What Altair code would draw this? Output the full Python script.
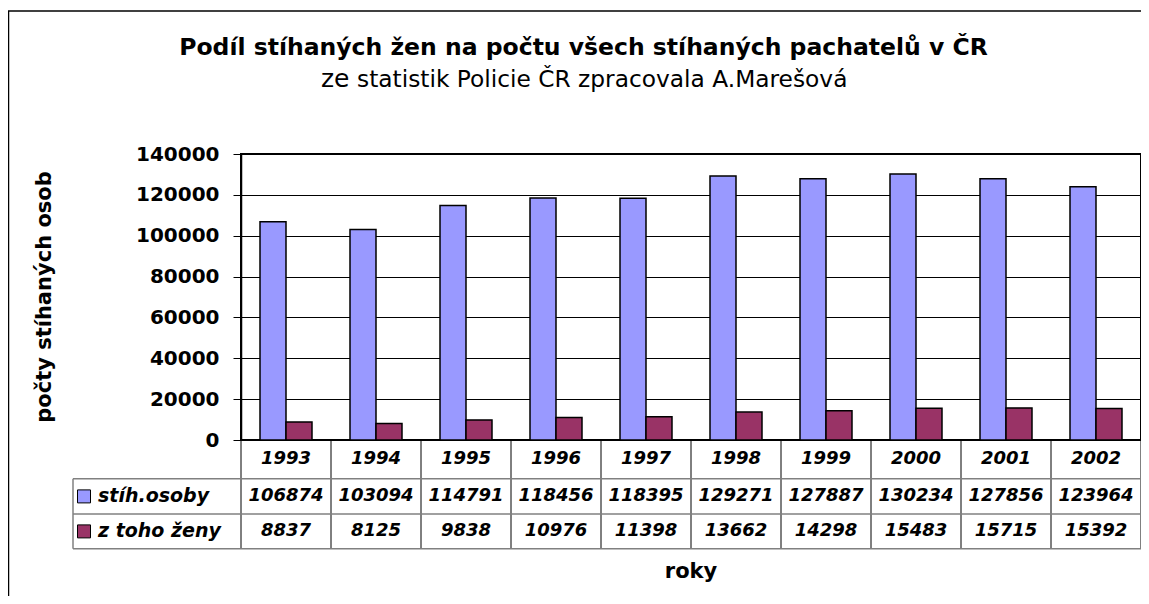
import altair as alt
import pandas as pd

# ---------------- data ----------------
years = ["1993", "1994", "1995", "1996", "1997", "1998", "1999", "2000", "2001", "2002"]
series_names = ["stíh.osoby", "z toho ženy"]
stih_osoby = [106874, 103094, 114791, 118456, 118395, 129271, 127887, 130234, 127856, 123964]
z_toho_zeny = [8837, 8125, 9838, 10976, 11398, 13662, 14298, 15483, 15715, 15392]
colors = ["#9999FF", "#993366"]
y_ticks = [0, 20000, 40000, 60000, 80000, 100000, 120000, 140000]

title_text = "Podíl stíhaných žen na počtu všech stíhaných pachatelů v ČR"
subtitle_lead = "ze"
subtitle_rest = "statistik Policie ČR zpracovala A.Marešová"
y_title = "počty stíhaných osob"
x_title = "roky"

FONT = "DejaVu Sans"
W, H = 900, 286          # plot area
OX, OY = 241, 154        # plot origin on the page


def px(x):
    return x - OX


def py(y):
    return y - OY


bars_df = pd.DataFrame({
    "year": years * 2,
    "series": [series_names[0]] * len(years) + [series_names[1]] * len(years),
    "value": stih_osoby + z_toho_zeny,
})
rows_df = pd.DataFrame({"year": years, "s1": stih_osoby, "s2": z_toho_zeny})
one = pd.DataFrame({"k": [0]})

xscale = alt.Scale(domain=years, paddingInner=0, paddingOuter=0)
cscale = alt.Scale(domain=series_names, range=colors)
X = alt.X("year:N", scale=xscale, axis=None, sort=years)

bars = alt.Chart(bars_df).mark_bar(stroke="black", strokeWidth=1.5).encode(
    x=X,
    xOffset=alt.XOffset("series:N", sort=series_names,
                        scale=alt.Scale(domain=series_names, paddingInner=0, paddingOuter=19 / 26)),
    y=alt.Y("value:Q", scale=alt.Scale(domain=[0, 140000], nice=False),
            axis=alt.Axis(values=y_ticks, format="d", title=None,
                          labelFont=FONT, labelFontWeight="bold", labelFontSize=20,
                          labelColor="black", labelPadding=14,
                          tickSize=8, tickColor="black", tickWidth=1,
                          domainColor="black", domainWidth=1.5,
                          grid=True, gridColor="black", gridWidth=1)),
    color=alt.Color("series:N", scale=cscale, legend=None),
)

txt = dict(font=FONT, fontWeight="bold", fontStyle="italic", baseline="middle", color="black")

hdr = alt.Chart(rows_df).mark_text(fontSize=18, **txt).encode(
    x=X, y=alt.value(py(459.4)), text="year:N")
row1 = alt.Chart(rows_df).mark_text(fontSize=18, **txt).encode(
    x=X, y=alt.value(py(496.4)), text=alt.Text("s1:Q", format="d"))
row2 = alt.Chart(rows_df).mark_text(fontSize=18, **txt).encode(
    x=X, y=alt.value(py(531.4)), text=alt.Text("s2:Q", format="d"))

leg_df = pd.DataFrame({"series": series_names})
leg_sq1 = alt.Chart(leg_df).transform_filter(alt.datum.series == series_names[0]).mark_square(
    size=169, filled=True, stroke="black", strokeWidth=1, opacity=1).encode(
    x=alt.value(px(84)), y=alt.value(py(496.4)),
    color=alt.Color("series:N", scale=cscale, legend=None))
leg_sq2 = alt.Chart(leg_df).transform_filter(alt.datum.series == series_names[1]).mark_square(
    size=169, filled=True, stroke="black", strokeWidth=1, opacity=1).encode(
    x=alt.value(px(84)), y=alt.value(py(531.4)),
    color=alt.Color("series:N", scale=cscale, legend=None))
leg_t1 = alt.Chart(leg_df).transform_filter(alt.datum.series == series_names[0]).mark_text(
    fontSize=19, align="left", **txt).encode(
    x=alt.value(px(98)), y=alt.value(py(496.4)), text="series:N")
leg_t2 = alt.Chart(leg_df).transform_filter(alt.datum.series == series_names[1]).mark_text(
    fontSize=19, align="left", **txt).encode(
    x=alt.value(px(98)), y=alt.value(py(531.4)), text="series:N")

# table lines
vlines = alt.Chart(rows_df).mark_rule(color="black", strokeWidth=1).encode(
    x=alt.X("year:N", scale=xscale, axis=None, sort=years, bandPosition=0),
    y=alt.value(py(440)), y2=alt.value(py(549)))
vright = alt.Chart(one).mark_rule(color="black", strokeWidth=1).encode(
    x=alt.value(W), y=alt.value(py(440)), y2=alt.value(py(549)))
vleft = alt.Chart(one).mark_rule(color="#808080", strokeWidth=1.5).encode(
    x=alt.value(px(73)), y=alt.value(py(478.7)), y2=alt.value(py(548.7)))


def hline(yabs):
    return alt.Chart(one).mark_rule(color="#808080", strokeWidth=1.5).encode(
        x=alt.value(px(73)), x2=alt.value(W), y=alt.value(py(yabs)))


h1, h2, h3 = hline(478.7), hline(514), hline(548.7)

# outer frame
ftop = alt.Chart(one).mark_rule(color="black", strokeWidth=1.5).encode(
    x=alt.value(px(8)), x2=alt.value(W + 10), y=alt.value(py(11)))
fleft = alt.Chart(one).mark_rule(color="black", strokeWidth=1.5).encode(
    x=alt.value(px(8.5)), y=alt.value(py(11)), y2=alt.value(py(604)))

# titles
t_title = alt.Chart(pd.DataFrame({"t": [title_text]})).mark_text(
    font=FONT, fontWeight="bold", fontSize=23.5, align="center", baseline="alphabetic", color="black").encode(
    x=alt.value(px(583.5)), y=alt.value(py(55)), text="t:N")
t_sub1 = alt.Chart(pd.DataFrame({"t": [subtitle_lead]})).mark_text(
    font=FONT, fontSize=25, align="left", baseline="alphabetic", color="black").encode(
    x=alt.value(px(321)), y=alt.value(py(87)), text="t:N")
t_sub2 = alt.Chart(pd.DataFrame({"t": [subtitle_rest]})).mark_text(
    font=FONT, fontSize=23.3, align="left", baseline="alphabetic", color="black").encode(
    x=alt.value(px(357)), y=alt.value(py(87)), text="t:N")
t_y = alt.Chart(pd.DataFrame({"t": [y_title]})).mark_text(
    font=FONT, fontWeight="bold", fontSize=21, align="center", baseline="middle", angle=270,
    color="black").encode(
    x=alt.value(px(45)), y=alt.value(py(297)), text="t:N")
t_x = alt.Chart(pd.DataFrame({"t": [x_title]})).mark_text(
    font=FONT, fontWeight="bold", fontSize=21, align="center", baseline="alphabetic",
    color="black").encode(
    x=alt.value(px(691)), y=alt.value(py(578)), text="t:N")

chart = alt.layer(
    bars, vlines, vright, vleft, h1, h2, h3, hdr, row1, row2,
    leg_sq1, leg_sq2, leg_t1, leg_t2, ftop, fleft, t_title, t_sub1, t_sub2, t_y, t_x,
).properties(
    width=W, height=H,
    padding={"left": OX - 8, "top": OY - 8, "right": 0, "bottom": 588 - (OY - 8) - H},
    autosize=alt.AutoSizeParams(type="none"),
    background="white",
).configure_view(stroke="black", strokeWidth=2)

chart.save("out.html", embed_options={"renderer": "svg", "actions": False})
